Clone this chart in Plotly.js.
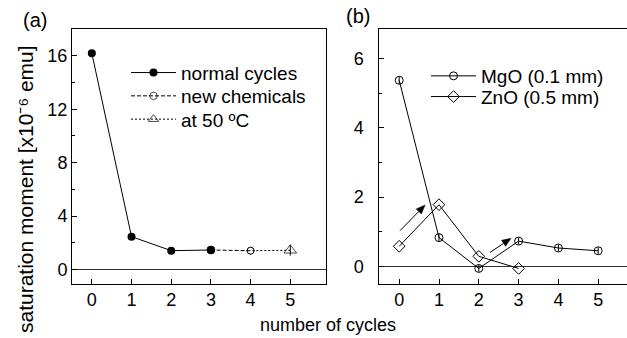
<!DOCTYPE html>
<html>
<head>
<meta charset="utf-8">
<script src="https://cdn.plot.ly/plotly-3.0.1.min.js"></script>
<style>
html,body{margin:0;padding:0;overflow:hidden;background:#fff;}
#chart{width:660px;height:338px;}
</style>
</head>
<body>
<div id="chart"></div>
<script>
// ---- data (panel a) ----
var normalX = [0, 1, 2, 3];
var normalY = [16.18, 2.47, 1.42, 1.47];
var newChemX = [4, 3];
var newChemY = [1.42, 1.47];
var hotX = [5, 4];
var hotY = [1.45, 1.42];
var hotErr = [0.4, 0];
// ---- data (panel b) ----
var cyclesB = [0, 1, 2, 3, 4, 5];
var mgoY = [5.37, 0.83, -0.06, 0.73, 0.53, 0.45];
var mgoErr = [0.1, 0.1, 0.1, 0.1, 0.1, 0.1];
var znoX = [0, 1, 2, 3];
var znoY = [0.58, 1.78, 0.29, -0.06];
// arrows in panel b: [x0, y0, x1, y1]
var arrow1 = [0.02, 1.03, 0.65, 1.77];
var arrow2 = [2.28, 0.40, 2.81, 0.81];
// tick values
var xTicks = [0, 1, 2, 3, 4, 5];
var yTicksA = [0, 4, 8, 12, 16];
var yTicksB = [0, 2, 4, 6];

var FONT = '"Liberation Sans", Arial, sans-serif';
var W = 660, H = 338, ML = 50, MR = 0, MT = 0, MB = 0;
function px(p) { return (p - ML) / (W - ML - MR); }
function py(p) { return (H - MB - p) / (H - MT - MB); }

var xRange = [-0.5, 5.9];
var yRangeA = [-1.05, 18];
var yRangeB = [-0.5, 6.85];
var bLeft = 379.3, bRight = 634, plotTop = 29, plotBottom = 283.7;

var traces = [
  {x: hotX, y: hotY, xaxis: 'x', yaxis: 'y', name: 'at 50 \u00baC', legend: 'legend3',
   mode: 'lines+markers', line: {color: 'black', width: 1, dash: '2px,2px'},
   marker: {symbol: ['triangle-up-open', 'circle-open'], size: [11, 7], color: 'black', line: {color: 'black', width: 1}},
   error_y: {type: 'data', array: hotErr, visible: true, width: 0, thickness: 1, color: 'black'}},
  {x: newChemX, y: newChemY, xaxis: 'x', yaxis: 'y', name: 'new chemicals', legend: 'legend2',
   mode: 'lines+markers', line: {color: 'black', width: 1, dash: '4px,2px'},
   marker: {symbol: ['circle-open', 'circle'], size: [7, 8], color: 'black', line: {color: 'black', width: 1}}},
  {x: normalX, y: normalY, xaxis: 'x', yaxis: 'y', name: 'normal cycles', legend: 'legend', showlegend: true,
   mode: 'lines+markers', line: {color: 'black', width: 1},
   marker: {symbol: 'circle', size: 8, color: 'black'}},
  {x: cyclesB, y: mgoY, xaxis: 'x2', yaxis: 'y2', name: 'MgO (0.1 mm)', legend: 'legend4',
   mode: 'lines+markers', line: {color: 'black', width: 1},
   marker: {symbol: 'circle-open', size: 8, color: 'black', line: {color: 'black', width: 1}},
   error_y: {type: 'data', array: mgoErr, visible: true, width: 0, thickness: 1, color: 'black'}},
  {x: znoX, y: znoY, xaxis: 'x2', yaxis: 'y2', name: 'ZnO (0.5 mm)', legend: 'legend5',
   mode: 'lines+markers', line: {color: 'black', width: 1},
   marker: {symbol: 'diamond-open', size: 9, color: 'black', line: {color: 'black', width: 1}}}
];

var yDom = [py(plotBottom), py(plotTop)];
function xAxis(dom, anchor) {
  return {domain: dom, anchor: anchor, range: xRange, tickvals: xTicks, ticks: 'inside', ticklen: 5,
    tickcolor: 'black', showline: true, linecolor: 'black', linewidth: 1, mirror: true, showgrid: false,
    zeroline: false, tickfont: {family: FONT, size: 18, color: 'black'}, fixedrange: true};
}
function yAxis(range, vals, minorDt, anchor, standoff) {
  return {domain: yDom, anchor: anchor, side: 'left', range: range, tickvals: vals, ticks: 'inside', ticklen: 5,
    tickcolor: 'black', showline: true, linecolor: 'black', linewidth: 1, mirror: true, showgrid: false,
    zeroline: true, zerolinecolor: '#333', zerolinewidth: 1.6, ticklabelstandoff: standoff,
    minor: {dtick: minorDt, ticks: 'inside', ticklen: 3, tickcolor: 'black', showgrid: false},
    tickfont: {family: FONT, size: 18, color: 'black'}, fixedrange: true};
}
function leg(xPix, yPix) {
  return {x: px(xPix), y: py(yPix), xanchor: 'left', yanchor: 'middle', bgcolor: 'rgba(0,0,0,0)',
    font: {family: FONT, size: 19, color: 'black'}, itemwidth: 45, borderwidth: 0};
}

// arrow shapes (line + filled head) built from the arrow arrays through the panel-b scale
var sx = (bRight - bLeft) / (xRange[1] - xRange[0]);
var sy = (plotBottom - plotTop) / (yRangeB[1] - yRangeB[0]);
function arrowShapes(a) {
  var dx = (a[2] - a[0]) * sx, dy = (a[3] - a[1]) * sy;
  var len = Math.sqrt(dx * dx + dy * dy), ux = dx / len, uy = dy / len;
  var headL = 9, headW = 3.6;
  var bx = -ux * headL, by = -uy * headL;
  var p1x = bx - uy * headW, p1y = by + ux * headW;
  var p2x = bx + uy * headW, p2y = by - ux * headW;
  function X(v) { return a[2] + v / sx; }
  function Y(v) { return a[3] + v / sy; }
  return [
    {type: 'line', xref: 'x2', yref: 'y2', x0: a[0], y0: a[1], x1: X(bx), y1: Y(by),
     line: {color: 'black', width: 1}},
    {type: 'path', xref: 'x2', yref: 'y2',
     path: 'M' + a[2] + ',' + a[3] + ' L' + X(p1x) + ',' + Y(p1y) + ' L' + X(p2x) + ',' + Y(p2y) + ' Z',
     fillcolor: 'black', line: {color: 'black', width: 0.5}}
  ];
}

var layout = {
  width: W, height: H, showlegend: true,
  margin: {l: ML, r: MR, t: MT, b: MB, pad: 0},
  paper_bgcolor: 'white', plot_bgcolor: 'white',
  font: {family: FONT, color: 'black'},
  xaxis: xAxis([px(72), px(326)], 'y'),
  yaxis: yAxis(yRangeA, yTicksA, 2, 'x', 0),
  xaxis2: xAxis([px(bLeft), px(bRight)], 'y2'),
  yaxis2: yAxis(yRangeB, yTicksB, 1, 'x2', 11),
  legend: leg(126, 72.7),
  legend2: leg(126, 96),
  legend3: leg(126, 119.3),
  legend4: leg(426, 76),
  legend5: leg(426, 96.7),
  shapes: arrowShapes(arrow1).concat(arrowShapes(arrow2)),
  annotations: [
    {text: '(a)', xref: 'paper', yref: 'paper', x: px(35), y: py(20), xanchor: 'center', yanchor: 'middle',
     showarrow: false, font: {family: FONT, size: 20, color: 'black'}},
    {text: '(b)', xref: 'paper', yref: 'paper', x: px(358), y: py(16), xanchor: 'center', yanchor: 'middle',
     showarrow: false, font: {family: FONT, size: 20, color: 'black'}},
    {text: 'number of cycles', xref: 'paper', yref: 'paper', x: px(328), y: py(325), xanchor: 'center', yanchor: 'middle',
     showarrow: false, font: {family: FONT, size: 18, color: 'black'}},
    {text: 'saturation moment [x10\u207B\u2076 emu]', xref: 'paper', yref: 'paper', x: px(25), y: py(189),
     xanchor: 'center', yanchor: 'middle', showarrow: false, textangle: -90,
     font: {family: FONT, size: 21, color: 'black'}}
  ]
};

Plotly.newPlot('chart', traces, layout, {displayModeBar: false, staticPlot: true});
</script>
</body>
</html>
